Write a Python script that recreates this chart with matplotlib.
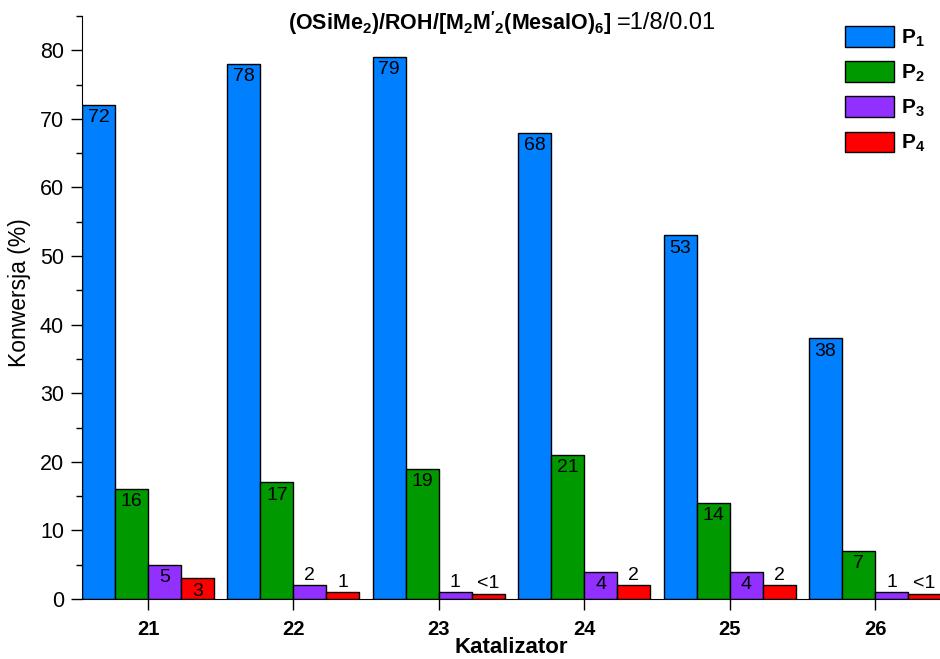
import numpy as np
import matplotlib
matplotlib.use('Agg')
from matplotlib import pyplot as plt
from matplotlib.ticker import MultipleLocator

plt.rcParams['font.family'] = ['Liberation Sans', 'DejaVu Sans']
plt.rcParams['mathtext.fontset'] = 'custom'
plt.rcParams['mathtext.rm'] = 'Liberation Sans'
plt.rcParams['mathtext.it'] = 'Liberation Sans:italic'
plt.rcParams['mathtext.bf'] = 'Liberation Sans:bold'

# catalysts on the x axis
catalysts = ['21', '22', '23', '24', '25', '26']

# conversion (%) for each product
p1 = [72, 78, 79, 68, 53, 38]
p2 = [16, 17, 19, 21, 14, 7]
p3 = [5, 2, 1, 4, 4, 1]
p4 = [3, 1, 0.8, 2, 2, 0.8]

p1_lbl = ['72', '78', '79', '68', '53', '38']
p2_lbl = ['16', '17', '19', '21', '14', '7']
p3_lbl = ['5', '2', '1', '4', '4', '1']
p4_lbl = ['3', '1', '<1', '2', '2', '<1']

series = [p1, p2, p3, p4]
labels = [p1_lbl, p2_lbl, p3_lbl, p4_lbl]
names = [r'$\mathbf{P_1}$', r'$\mathbf{P_2}$', r'$\mathbf{P_3}$', r'$\mathbf{P_4}$']
colors = ['#0080FF', '#009900', '#9130FF', '#FF0000']

fig = plt.figure(figsize=(9.4, 6.59), dpi=100)
ax = fig.add_axes([82 / 940, 60 / 659, 858 / 940, 583 / 659])

x = np.arange(len(catalysts))
w = 0.227
offsets = [-1.5, -0.5, 0.5, 1.5]

for vals, lbls, name, col, off in zip(series, labels, names, colors, offsets):
    bars = ax.bar(x + off * w, vals, w, color=col, edgecolor='black',
                  linewidth=1, label=name)
    for b, v, t in zip(bars, vals, lbls):
        cx = b.get_x() + b.get_width() / 2
        if v >= 3:
            ax.annotate(t, (cx, v), xytext=(0, -3), textcoords='offset points',
                        ha='center', va='top', fontsize=14)
        else:
            ax.annotate(t, (cx, v), xytext=(0, 1), textcoords='offset points',
                        ha='center', va='bottom', fontsize=14)

ax.set_xlim(-0.454, 5.447)
ax.set_ylim(0, 85)
ax.set_xticks(x)
ax.set_xticklabels(catalysts, fontsize=14.5, fontweight='bold')
ax.yaxis.set_major_locator(MultipleLocator(10))
ax.yaxis.set_minor_locator(MultipleLocator(5))
ax.tick_params(axis='y', which='major', length=8, width=1, labelsize=15.5, pad=5)
ax.tick_params(axis='y', which='minor', length=4, width=1)
ax.tick_params(axis='x', which='major', length=8, width=1, pad=7)

for s in ['top', 'right']:
    ax.spines[s].set_visible(False)

ax.set_ylabel('Konwersja (%)', fontsize=16.5)
ax.yaxis.set_label_coords(-0.059, 0.525)
ax.set_xlabel('Katalizator', fontsize=16, fontweight='bold', labelpad=-1)

# reaction conditions written above the bars
ax.text(612 / 940, 636 / 659, r"$\mathbf{(OSiMe_2)/ROH/[M_2M'_2(MesalO)_6]}$",
        transform=fig.transFigure, ha='right', va='center', fontsize=15.5)
ax.text(617 / 940, 636 / 659, '=1/8/0.01',
        transform=fig.transFigure, ha='left', va='center', fontsize=17)

ax.legend(loc='upper right', bbox_to_anchor=(1.0, 1.008), frameon=False,
          fontsize=15, handlelength=2.36, handleheight=1.15,
          handletextpad=0.35, labelspacing=0.6, borderaxespad=0.3)

fig.savefig('out.png', dpi=100)
